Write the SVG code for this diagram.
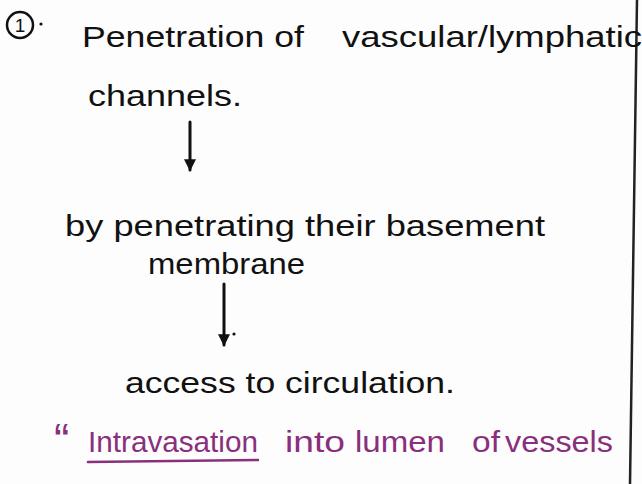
<svg xmlns="http://www.w3.org/2000/svg" width="642" height="484" viewBox="0 0 642 484">
<defs>
<style>
.t{font-family:"Liberation Sans","DejaVu Sans",sans-serif;font-size:30px;fill:#111;}
.p{font-family:"Liberation Sans","DejaVu Sans",sans-serif;font-size:30px;fill:#8a2f7c;}
.c{stroke:#111;stroke-width:3;fill:none;stroke-linecap:round;}
</style>
<marker id="ah" viewBox="0 0 10 10" refX="9" refY="5" markerWidth="5" markerHeight="4" orient="auto" markerUnits="strokeWidth">
<path d="M0,0 L10,5 L0,10 Z" fill="#111"/>
</marker>
</defs>
<rect width="642" height="484" fill="#fdfdfd"/>
<line x1="637" y1="0" x2="630" y2="484" stroke="#222" stroke-width="2.5"/>
<g id="marker1">
<circle cx="20" cy="25" r="13" fill="none" stroke="#111" stroke-width="2.5"/>
<text class="t" x="20" y="32" text-anchor="middle" style="font-size:19px">1</text>
<circle cx="41" cy="24" r="1.6" fill="#111"/>
</g>
<g id="node1">
<text class="t" x="82" y="47" textLength="222" lengthAdjust="spacingAndGlyphs">Penetration of</text>
<text class="t" x="342" y="47" textLength="300" lengthAdjust="spacingAndGlyphs">vascular/lymphatic</text>
<text class="t" x="88" y="106" textLength="154" lengthAdjust="spacingAndGlyphs">channels.</text>
</g>
<g id="node2">
<text class="t" x="65" y="236" textLength="480" lengthAdjust="spacingAndGlyphs">by penetrating their basement</text>
<text class="t" x="148" y="274" textLength="157" lengthAdjust="spacingAndGlyphs">membrane</text>
</g>
<g id="node3">
<text class="t" x="125" y="393" textLength="330" lengthAdjust="spacingAndGlyphs">access to circulation.</text>
</g>
<g id="note">
<text class="p" x="54" y="456" style="font-size:46px">“</text>
<text class="p" x="88" y="452" textLength="170" lengthAdjust="spacingAndGlyphs">Intravasation</text>
<text class="p" x="285" y="452" textLength="60" lengthAdjust="spacingAndGlyphs">into</text>
<text class="p" x="355" y="452" textLength="90" lengthAdjust="spacingAndGlyphs">lumen</text>
<text class="p" x="472" y="452" textLength="28" lengthAdjust="spacingAndGlyphs">of</text>
<text class="p" x="505" y="452" textLength="108" lengthAdjust="spacingAndGlyphs">vessels</text>
<line x1="88" y1="462" x2="258" y2="460" stroke="#8a2f7c" stroke-width="2.5" stroke-linecap="round"/>
</g>
<g id="connectors">
<line class="c" x1="190" y1="122" x2="190" y2="170" marker-end="url(#ah)"/>
<line class="c" x1="224" y1="284" x2="224" y2="345" marker-end="url(#ah)"/>
<circle cx="234" cy="334" r="1.6" fill="#111"/>
</g>
</svg>
